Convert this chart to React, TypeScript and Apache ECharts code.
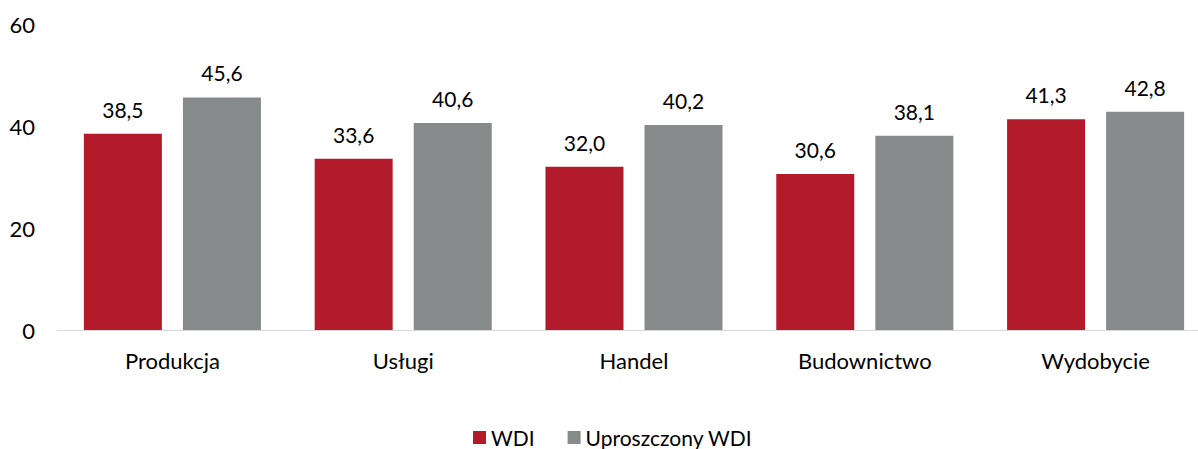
import React, { useEffect, useRef } from "react";
import * as echarts from "echarts";

const categories = ["Produkcja", "Usługi", "Handel", "Budownictwo", "Wydobycie"];
const wdiValues = [38.5, 33.6, 32.0, 30.6, 41.3];
const simplifiedWdiValues = [45.6, 40.6, 40.2, 38.1, 42.8];
const seriesNames = ["WDI", "Uproszczony WDI"];
const yTicks = { min: 0, max: 60, interval: 20 };

const FONT = "Lato, 'Open Sans', sans-serif";
const RED = "#B31B2A";
const GRAY = "#878A8B";

const fmt = (v: number) => v.toFixed(1).replace(".", ",");

export default function App() {
  const ref = useRef<HTMLDivElement>(null);

  useEffect(() => {
    if (!ref.current) return;
    const chart = echarts.init(ref.current, null, { renderer: "svg" });
    const label = {
      show: true,
      position: "top" as const,
      distance: 14,
      color: "#000",
      fontFamily: FONT,
      fontSize: 21,
      formatter: (p: any) => fmt(p.value),
    };
    chart.setOption({
      animation: false,
      textStyle: { fontFamily: FONT },
      grid: { left: 57, right: 4, top: 24, bottom: 119, containLabel: false },
      legend: {
        data: seriesNames,
        left: 468,
        top: 422,
        itemWidth: 13,
        itemHeight: 13,
        itemGap: 33,
        icon: "rect",
        textStyle: { fontFamily: FONT, fontSize: 21, color: "#000" },
      },
      xAxis: {
        type: "category",
        data: categories,
        axisLine: { lineStyle: { color: "#D9D9D9", width: 1 } },
        axisTick: { show: false },
        axisLabel: { color: "#000", fontFamily: FONT, fontSize: 22, margin: 19 },
      },
      yAxis: {
        type: "value",
        min: yTicks.min,
        max: yTicks.max,
        interval: yTicks.interval,
        splitLine: { show: false },
        axisLine: { show: false },
        axisTick: { show: false },
        axisLabel: { color: "#000", fontFamily: FONT, fontSize: 22, margin: 22 },
      },
      series: [
        {
          name: seriesNames[0],
          type: "bar",
          data: wdiValues,
          barWidth: 78,
          barGap: "27%",
          itemStyle: { color: RED },
          label,
        },
        {
          name: seriesNames[1],
          type: "bar",
          data: simplifiedWdiValues,
          barWidth: 78,
          itemStyle: { color: GRAY },
          label,
        },
      ],
    });
    return () => chart.dispose();
  }, []);

  return (
    <div
      style={{
        position: "fixed",
        left: 0,
        top: 0,
        width: 1198,
        height: 449,
        overflow: "hidden",
        background: "#fff",
      }}
    >
      <div ref={ref} style={{ width: 1215, height: 449 }} />
    </div>
  );
}
